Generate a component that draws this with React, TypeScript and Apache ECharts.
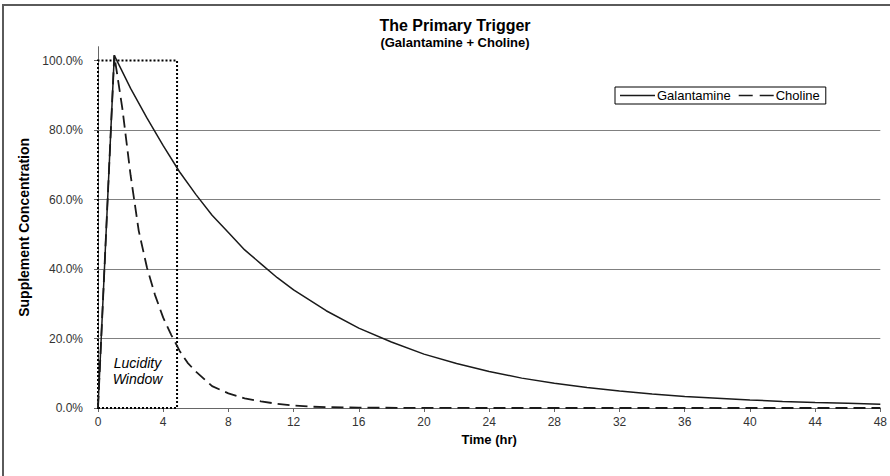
import React, { useEffect, useRef } from "react";
import * as echarts from "echarts";

const titleText = "The Primary Trigger";
const subtitleText = "(Galantamine + Choline)";
const xAxisName = "Time (hr)";
const yAxisName = "Supplement Concentration";
const seriesNames = ["Galantamine", "Choline"];
const yTicks = [0, 20, 40, 60, 80, 100];

const galTime = [0, 1, 2, 3, 4, 5, 6, 7, 8, 9, 10, 11, 12, 14, 16, 18, 20, 22, 24, 26, 28, 30, 32, 34, 36, 38, 40, 42, 44, 46, 48];
const galValues = [0, 101.5, 92, 83.5, 75.5, 68, 61.5, 55.5, 50.5, 45.5, 41.5, 37.5, 34, 28, 23, 19, 15.5, 12.8, 10.5, 8.6, 7.1, 5.9, 4.9, 4.0, 3.3, 2.8, 2.3, 1.9, 1.6, 1.35, 1.1];

const choTime = [0, 1, 1.5, 2, 2.5, 3, 3.5, 4, 4.5, 5, 5.5, 6, 7, 8, 9, 10, 11, 12, 13, 14, 16, 20, 24, 28, 32, 36, 40, 44, 48];
const choValues = [0, 101.5, 86, 67, 51, 40.5, 32.5, 26, 21, 16.5, 13, 10.5, 6.3, 4.2, 2.8, 1.9, 1.2, 0.7, 0.4, 0.25, 0.1, 0.03, 0, 0, 0, 0, 0, 0, 0];

const windowStart = 0;
const windowEnd = 4.85;
const windowTop = 100;
const windowLabel = "Lucidity\nWindow";

const FONT = 'Arial, "Liberation Sans", sans-serif';

const solidIcon = "path://M0,0H35V1.4H0Z";
const dashedIcon = "path://M0,0H12V1.4H0Z M18,0H30V1.4H18Z";

export default function App() {
  const ref = useRef<HTMLDivElement>(null);
  useEffect(() => {
    if (!ref.current) return;
    const chart = echarts.init(ref.current, null, { renderer: "svg" });
    const gal = galTime.map((t, i) => [t, galValues[i]]);
    const cho = choTime.map((t, i) => [t, choValues[i]]);
    chart.setOption({
      animation: false,
      backgroundColor: "#fff",
      textStyle: { fontFamily: FONT },
      graphic: [
        {
          type: "rect",
          shape: { x: 3, y: 5, width: 950, height: 520 },
          style: { fill: "none", stroke: "#5a5a5a", lineWidth: 2 },
          silent: true,
        },
      ],
      title: {
        text: titleText,
        subtext: subtitleText,
        left: 450,
        textAlign: "center",
        top: 12,
        itemGap: 3,
        textStyle: { fontFamily: FONT, fontSize: 16, fontWeight: "bold", color: "#000" },
        subtextStyle: { fontFamily: FONT, fontSize: 13, fontWeight: "bold", color: "#000" },
      },
      legend: {
        data: [
          { name: seriesNames[0], icon: solidIcon },
          { name: seriesNames[1], icon: dashedIcon },
        ],
        left: 615,
        top: 87,
        orient: "horizontal",
        itemWidth: 35,
        itemHeight: 12,
        itemGap: 8,
        symbolKeepAspect: true,
        padding: [2, 6, 2, 5],
        borderColor: "#000",
        borderWidth: 1,
        textStyle: { fontFamily: FONT, fontSize: 13, color: "#000", padding: [0, 0, 0, -3] },
      },
      grid: { left: 98, right: 9, top: 46.7, bottom: 68, containLabel: false },
      xAxis: {
        type: "value",
        min: 0,
        max: 48,
        interval: 4,
        name: xAxisName,
        nameLocation: "middle",
        nameGap: 23,
        nameTextStyle: { fontFamily: FONT, fontSize: 13, fontWeight: "bold", color: "#000" },
        axisLine: { show: true, lineStyle: { color: "#666", width: 1 } },
        axisTick: { show: true, inside: false, length: 4, lineStyle: { color: "#666" } },
        axisLabel: { fontFamily: FONT, fontSize: 12, color: "#333", margin: 8 },
        splitLine: { show: false },
      },
      yAxis: {
        type: "value",
        min: 0,
        max: 104,
        interval: 20,
        name: yAxisName,
        nameLocation: "middle",
        nameGap: 64,
        nameTextStyle: { fontFamily: FONT, fontSize: 14, fontWeight: "bold", color: "#000" },
        axisLine: { show: true, lineStyle: { color: "#666", width: 1 } },
        axisTick: { show: true, length: 4, customValues: yTicks, lineStyle: { color: "#666" } },
        axisLabel: {
          fontFamily: FONT,
          fontSize: 12,
          color: "#333",
          margin: 15,
          customValues: yTicks,
          formatter: (v: number) => (v % 20 === 0 ? v.toFixed(1) + "%" : ""),
        },
        splitLine: { show: true, showMaxLine: false, lineStyle: { color: "#808080", width: 1 } },
      },
      series: [
        {
          name: seriesNames[0],
          type: "line",
          data: gal,
          symbol: "none",
          smooth: false,
          lineStyle: { color: "#1a1a1a", width: 1.5, type: "solid" },
          itemStyle: { color: "#1a1a1a" },
          z: 3,
          markArea: {
            silent: true,
            itemStyle: {
              color: "rgba(0,0,0,0)",
              borderColor: "#000",
              borderWidth: 2,
              borderType: "dotted",
            },
            label: {
              show: true,
              position: "insideBottom",
              distance: 22,
              formatter: windowLabel,
              fontFamily: FONT,
              fontStyle: "italic",
              fontSize: 14,
              lineHeight: 16,
              color: "#000",
            },
            data: [[{ xAxis: windowStart, yAxis: 0 }, { xAxis: windowEnd, yAxis: windowTop }]],
          },
        },
        {
          name: seriesNames[1],
          type: "line",
          data: cho,
          symbol: "none",
          smooth: false,
          lineStyle: { color: "#1a1a1a", width: 1.8, type: [12, 6] },
          itemStyle: { color: "#1a1a1a" },
          z: 2,
        },
      ],
    });
    return () => chart.dispose();
  }, []);
  return (
    <div
      ref={ref}
      style={{ position: "fixed", left: 0, top: 0, width: 890, height: 476, background: "#fff" }}
    />
  );
}
